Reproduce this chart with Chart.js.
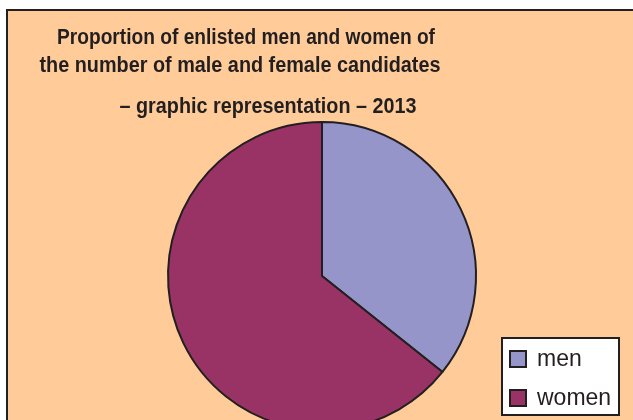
<!DOCTYPE html>
<html>
<head>
<meta charset="utf-8">
<script src="https://cdn.jsdelivr.net/npm/chart.js@4"></script>
<style>
  html, body { margin: 0; padding: 0; background: #fff; overflow: hidden; width: 633px; height: 420px; }
  #frame {
    position: absolute; left: 6px; top: 9px;
    width: 700px; height: 500px;
    background: #ffcc99;
    border: 2px solid #231f20;
  }
  #wrap { position: absolute; left: 0; top: 0; width: 680px; height: 480px; }
</style>
</head>
<body>
<div id="frame"><div id="wrap"><canvas id="myChart"></canvas></div></div>
<script>
const labels = ["men", "women"]
const shares = [35.7, 64.3]
const colors = ["#9595c9", "#993366"]
const titleLines = [
    "Proportion of enlisted men and women of",
    "the number of male and female candidates",
    "\u2013 graphic representation \u2013 2013"
]

// title lines are not centred on the same x in the original
const titlePlugin = {
    id: "titleLines",
    afterDraw(chart) {
        const ctx = chart.ctx
        const pos = [[238, 33, 378], [232, 61, 401], [260, 102, 297]]
        ctx.save()
        ctx.fillStyle = "#231f20"
        ctx.font = "bold 22px 'Liberation Sans', Arial, sans-serif"
        ctx.textAlign = "center"
        ctx.textBaseline = "alphabetic"
        titleLines.forEach((t, i) => {
            ctx.fillText(t, pos[i][0], pos[i][1], pos[i][2])
        })
        ctx.restore()
    }
}

// boxed legend, bottom right
const legendPlugin = {
    id: "boxLegend",
    afterDraw(chart) {
        const ctx = chart.ctx
        const ds = chart.data.datasets[0]
        ctx.save()
        ctx.fillStyle = "#ffffff"
        ctx.fillRect(494, 327, 117, 77)
        ctx.strokeStyle = "#231f20"
        ctx.lineWidth = 2
        ctx.strokeRect(494, 327, 117, 77)
        ctx.font = "23px 'Liberation Sans', Arial, sans-serif"
        ctx.textBaseline = "middle"
        chart.data.labels.forEach((lab, i) => {
            const y = 348 + i * 39
            ctx.fillStyle = ds.backgroundColor[i]
            ctx.fillRect(502, y - 8, 16, 16)
            ctx.strokeRect(502, y - 8, 16, 16)
            ctx.fillStyle = "#231f20"
            ctx.fillText(lab, 529, y + 1)
        })
        ctx.restore()
    }
}

new Chart("myChart", {
    type: "pie",
    data: {
        labels: labels,
        datasets: [{
            data: shares,
            backgroundColor: colors,
            borderColor: "#231f20",
            borderWidth: 2,
        }]
    },
    options: {
        responsive: true,
        maintainAspectRatio: false,
        animation: false,
        radius: 154,
        layout: { padding: { left: 100, right: 152, top: 110, bottom: 60 } },
        plugins: {
            legend: { display: false },
            title: { display: false },
            tooltip: { enabled: false }
        }
    },
    plugins: [titlePlugin, legendPlugin]
});
</script>
</body>
</html>
